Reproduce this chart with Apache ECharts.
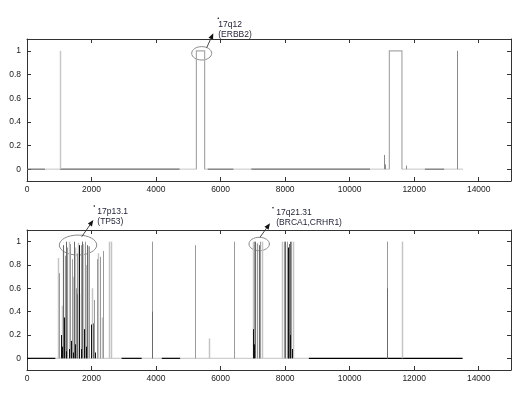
<!DOCTYPE html>
<html>
<head>
<meta charset="utf-8">
<script src="https://cdn.jsdelivr.net/npm/echarts@6/dist/echarts.min.js"></script>
<style>
  html, body { margin: 0; padding: 0; background: #fff; }
</style>
</head>
<body>
<div id="chart" style="width: 529px; height: 402px"></div>
<script>
// tick values
const xTicks = [0, 2000, 4000, 6000, 8000, 10000, 12000, 14000];
const yTicks = [0, 0.2, 0.4, 0.6, 0.8, 1];

// top panel (17q12) - baseline stretches [from, to]
const topBaseDark = [[0, 560], [1020, 4730], [5600, 6400], [6950, 10630], [12330, 12930]];
const topBaseLight = [[560, 1020], [4730, 5250], [5505, 5600], [6400, 6950], [10630, 11230], [11620, 12330], [12930, 13515]];
// top panel spikes
const topLightX = [1020];
const topLightH = [1];
const topSpikeX = [11050, 11110, 11750, 13320];
const topSpikeH = [0.12, 0.04, 0.03, 1];
// top panel plateaus [from, to, height]
const topBoxes = [[5250, 5505, 1], [11230, 11620, 1]];

// bottom panel baseline stretches
const botBaseBlack = [[0, 880], [2930, 3555], [4176, 4746], [8735, 13500]];
const botBaseLight = [[880, 2930], [3555, 4176], [4746, 8735]];
// bottom panel spikes, grouped by shade
const botLightX = [968, 1080, 1130, 1298, 1430, 1480, 1580, 1620, 1740, 1830, 1900, 2000, 2200, 2310, 2554, 2595, 5627, 6990, 7140, 7280, 7900, 7990, 8250, 11610];
const botLightH = [0.86, 0.45, 0.93, 1.0, 0.7, 0.95, 0.99, 0.55, 0.98, 0.8, 0.96, 0.6, 0.9, 0.35, 1.0, 1.0, 0.17, 1.0, 0.99, 1.0, 1.0, 0.98, 1.0, 1.0];
const botGrayX = [1000, 1180, 1246, 1340, 1390, 1520, 1560, 1660, 1791, 1870, 1915, 2080, 2162, 2265, 2368, 3865, 5212, 6404, 7050, 7120, 7230, 7950, 8050, 8180, 11165];
const botGrayH = [0.73, 0.88, 0.95, 0.98, 0.85, 0.6, 0.9, 0.97, 1.0, 0.7, 0.96, 0.5, 0.85, 0.87, 0.92, 1.0, 0.97, 1.0, 1.0, 0.98, 1.0, 1.0, 1.0, 1.0, 1.0];
const botDarkX = [1123, 1195, 1452, 1535, 1709, 1853, 2039, 3865, 7080, 7180, 8000, 8120, 8150, 11165];
const botDarkH = [0.97, 1.0, 1.0, 0.55, 1.0, 0.97, 0.3, 0.4, 1.0, 0.97, 1.0, 0.98, 1.0, 0.6];
const botBlackX = [1050, 1100, 1160, 1220, 1300, 1370, 1420, 1500, 1600, 1627, 1680, 1760, 1820, 1970, 2100, 7010, 7040, 8080, 8100, 8140, 8200];
const botBlackH = [0.2, 0.1, 0.35, 0.06, 0.08, 0.15, 0.05, 0.12, 0.14, 0.97, 0.08, 0.25, 0.1, 0.29, 0.05, 0.25, 0.12, 0.95, 0.35, 0.2, 0.08];

// annotations
const noteText = ["17q12\n(ERBB2)", "17p13.1\n(TP53)", "17q21.31\n(BRCA1,CRHR1)"];
const noteGrid = [0, 1, 1];
const noteAt = [[5414, 0.979], [1581, 0.971], [7196, 0.98]];

var chart = echarts.init(document.getElementById("chart"));

function zip(xs, hs) {
  return xs.map(function (x, i) { return [x, hs[i]]; });
}

function spikeItem(width) {
  return function (params, api) {
    var p0 = api.coord([api.value(0), 0]);
    var p1 = api.coord([api.value(0), api.value(1)]);
    var x = Math.round(p0[0]) + 0.5;
    return {
      type: "line",
      shape: { x1: x, y1: p0[1], x2: x, y2: p1[1] },
      style: { stroke: api.visual("color"), lineWidth: width },
    };
  };
}

function segItem(params, api) {
  var p0 = api.coord([api.value(0), 0]);
  var p1 = api.coord([api.value(1), 0]);
  return {
    type: "line",
    shape: { x1: p0[0], y1: p0[1], x2: p1[0], y2: p1[1] },
    style: { stroke: api.visual("color"), lineWidth: 1.2 },
  };
}

function boxItem(params, api) {
  var a = api.value(0), b = api.value(1), h = api.value(2);
  var pts = [api.coord([a, 0]), api.coord([a, h]), api.coord([b, h]), api.coord([b, 0])];
  return {
    type: "polyline",
    shape: { points: pts },
    style: { stroke: api.visual("color"), lineWidth: 1.2, fill: null },
  };
}

function custom(gi, data, color, fn) {
  return {
    type: "custom",
    xAxisIndex: gi * 2,
    yAxisIndex: gi * 2,
    renderItem: fn,
    itemStyle: { color: color },
    data: data,
    silent: true,
    animation: false,
  };
}

var labelFont = { fontFamily: "Liberation Sans", fontSize: 8.5, color: "#222" };
var lineSt = { onZero: false, lineStyle: { color: "#333", width: 1 } };
var plain = function (v) { return String(v); };

function xAxes(gi) {
  return [
    {
      type: "value", gridIndex: gi, min: 0, max: 15000, position: "bottom",
      axisLine: lineSt, splitLine: { show: false },
      axisTick: { inside: true, length: 4, customValues: xTicks, lineStyle: { color: "#333" } },
      axisLabel: Object.assign({ margin: 4, customValues: xTicks, formatter: plain }, labelFont),
    },
    {
      type: "value", gridIndex: gi, min: 0, max: 15000, position: "top",
      axisLine: lineSt, splitLine: { show: false },
      axisTick: { inside: true, length: 4, customValues: xTicks, lineStyle: { color: "#333" } },
      axisLabel: { show: false },
    },
  ];
}

function yAxes(gi) {
  return [
    {
      type: "value", gridIndex: gi, min: -0.1, max: 1.1, position: "left",
      axisLine: lineSt, splitLine: { show: false },
      axisTick: { inside: true, length: 4, customValues: yTicks, lineStyle: { color: "#333" } },
      axisLabel: Object.assign({ margin: 6, customValues: yTicks, formatter: plain }, labelFont),
    },
    {
      type: "value", gridIndex: gi, min: -0.1, max: 1.1, position: "right",
      axisLine: lineSt, splitLine: { show: false },
      axisTick: { inside: true, length: 4, customValues: yTicks, lineStyle: { color: "#333" } },
      axisLabel: { show: false },
    },
  ];
}

var series = [
  custom(0, topBaseLight, "#cfcfcf", segItem),
  custom(0, topBaseDark, "#666", segItem),
  custom(0, topBoxes, "#a8a8a8", boxItem),
  custom(0, zip(topLightX, topLightH), "#c8c8c8", spikeItem(1.5)),
  custom(0, zip(topSpikeX, topSpikeH), "#8a8a8a", spikeItem(1)),
  custom(1, botBaseLight, "#cfcfcf", segItem),
  custom(1, botBaseBlack, "#000", segItem),
  custom(1, zip(botLightX, botLightH), "#c4c4c4", spikeItem(1.5)),
  custom(1, zip(botGrayX, botGrayH), "#9a9a9a", spikeItem(1)),
  custom(1, zip(botDarkX, botDarkH), "#6a6a6a", spikeItem(1)),
  custom(1, zip(botBlackX, botBlackH), "#111", spikeItem(1)),
];

var option = {
  backgroundColor: "#fff",
  animation: false,
  grid: [
    { left: 27, top: 39, width: 484, height: 142 },
    { left: 27, top: 230, width: 484, height: 140 },
  ],
  xAxis: xAxes(0).concat(xAxes(1)),
  yAxis: yAxes(0).concat(yAxes(1)),
  series: series,
};
chart.setOption(option);

// annotation shapes, offsets in pixels from the circled point
var noteShape = [
  { rx: 10, ry: 6.7, tail: [5, -5.6], head: [11.6, -20], dot: [16.6, -35], text: [16.6, -34] },
  { rx: 18.7, ry: 10, tail: [3.7, -8.3], head: [15.3, -25], dot: [16.3, -39], text: [19.3, -38.7] },
  { rx: 10.2, ry: 6.7, tail: [0.8, -6.7], head: [10.8, -20.7], dot: [13.8, -36.3], text: [17.1, -36.2] },
];

var graphics = [];
noteText.forEach(function (t, i) {
  var c = chart.convertToPixel({ gridIndex: noteGrid[i] }, noteAt[i]);
  var s = noteShape[i];
  var tx = c[0] + s.tail[0], ty = c[1] + s.tail[1];
  var hx = c[0] + s.head[0], hy = c[1] + s.head[1];
  var dx = hx - tx, dy = hy - ty, len = Math.sqrt(dx * dx + dy * dy);
  var ux = dx / len, uy = dy / len;
  var bx = hx - ux * 6, by = hy - uy * 6;
  graphics.push({
    type: "ellipse", shape: { cx: c[0], cy: c[1], rx: s.rx, ry: s.ry },
    style: { fill: null, stroke: "#8a8a8a", lineWidth: 1 }, silent: true,
  });
  graphics.push({
    type: "line", shape: { x1: tx, y1: ty, x2: bx, y2: by },
    style: { stroke: "#444", lineWidth: 1 }, silent: true,
  });
  graphics.push({
    type: "polygon",
    shape: { points: [[hx, hy], [bx - uy * 2.5, by + ux * 2.5], [bx + uy * 2.5, by - ux * 2.5]] },
    style: { fill: "#111" }, silent: true,
  });
  graphics.push({
    type: "circle", shape: { cx: c[0] + s.dot[0], cy: c[1] + s.dot[1], r: 0.8 },
    style: { fill: "#111" }, silent: true,
  });
  graphics.push({
    type: "text", x: c[0] + s.text[0], y: c[1] + s.text[1],
    style: { text: t, fill: "#1f1f33", font: "8.5px Liberation Sans", lineHeight: 10, verticalAlign: "top" },
    silent: true,
  });
});
chart.setOption({ graphic: graphics });

window.onresize = function () {
  chart.resize();
};
</script>
</body>
</html>
